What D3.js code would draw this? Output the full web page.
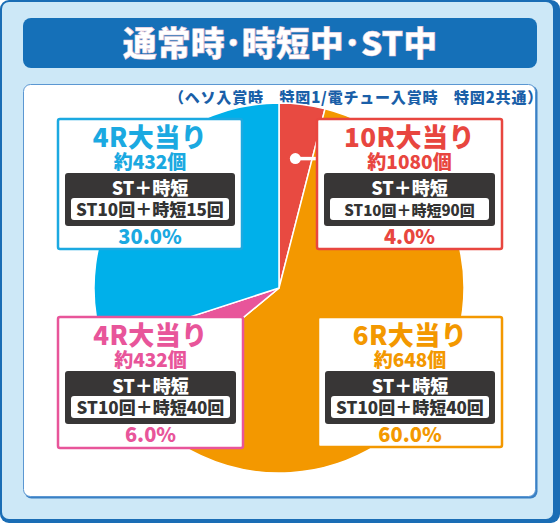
<!DOCTYPE html>
<html>
<head>
<meta charset="utf-8">
<script src="https://cdn.jsdelivr.net/npm/d3@7"></script>
<style>
  body { margin: 0; background: #fff; }
  svg { display: block; }
  text { font-family: "Noto Sans CJK JP", "Noto Sans", sans-serif; font-weight: 900; }
</style>
</head>
<body>
<script>
// chart data, pie order is clockwise from 12 o'clock
const hitNames  = ["10R大当り", "6R大当り", "4R大当り", "4R大当り"];
const payouts   = ["約1080個", "約648個", "約432個", "約432個"];
const modeNames = ["ST＋時短", "ST＋時短", "ST＋時短", "ST＋時短"];
const details   = ["ST10回＋時短90回", "ST10回＋時短40回", "ST10回＋時短40回", "ST10回＋時短15回"];
const shares    = [4.0, 60.0, 6.0, 30.0];
const sliceColors = ["#e84a41", "#f39800", "#e8559a", "#00b0ea"];
const textColors  = ["#e8463f", "#f39800", "#e8559a", "#1ba9e1"];
const title = "通常時･時短中･ST中";
const note = "（ヘソ入賞時　特図1/電チュー入賞時　特図2共通）";

// label box placement (same order as data)
const boxes = [
  {x: 317, y: 119, w: 185, h: 130, detailSize: 15},
  {x: 318, y: 317, w: 184, h: 130, detailSize: 17},
  {x: 58,  y: 317, w: 185, h: 131, detailSize: 17},
  {x: 58,  y: 119, w: 184, h: 130, detailSize: 17}
];

const width = 560, height = 523;
const svg = d3.select("body").append("svg")
  .attr("width", width)
  .attr("height", height);

// frame
svg.append("rect")
  .attr("x", 0).attr("y", 0).attr("width", width).attr("height", height)
  .attr("rx", 9).attr("fill", "#1a6db5");
svg.append("rect")
  .attr("x", 2).attr("y", 2).attr("width", 551).attr("height", 517)
  .attr("rx", 7).attr("fill", "#cde8f7");

// title bar
svg.append("rect")
  .attr("x", 23).attr("y", 18).attr("width", 514).attr("height", 50)
  .attr("rx", 8).attr("fill", "#1570b8");
svg.append("text")
  .attr("x", 280).attr("y", 56)
  .attr("text-anchor", "middle")
  .attr("font-size", 34)
  .attr("fill", "#fff")
  .attr("stroke", "#e9c6d6").attr("stroke-width", 0.5)
  .text(title);

// inner panel
svg.append("rect")
  .attr("x", 24.5).attr("y", 85.5).attr("width", 513).attr("height", 413)
  .attr("rx", 7).attr("fill", "#3a80c4");
svg.append("rect")
  .attr("x", 23.5).attr("y", 84.5).attr("width", 512).attr("height", 412)
  .attr("rx", 7).attr("fill", "#fff").attr("stroke", "#5b97d2").attr("stroke-width", 1);

svg.append("text")
  .attr("x", 543).attr("y", 103)
  .attr("text-anchor", "end")
  .attr("font-size", 15)
  .attr("letter-spacing", 0.8)
  .attr("fill", "#1a5fa8")
  .text(note);

// pie
const cx = 279, cy = 288, radius = 185;
const pie = d3.pie().sort(null).value(d => d);
const arc = d3.arc().innerRadius(0).outerRadius(radius);

svg.append("g")
  .attr("transform", `translate(${cx},${cy})`)
  .selectAll("path")
  .data(pie(shares))
  .join("path")
  .attr("d", arc)
  .attr("fill", (d, i) => sliceColors[i])
  .attr("stroke", "#fff")
  .attr("stroke-width", 1.5);

// connector from the small red slice to its box
const redMid = pie(shares)[0];
const pinR = radius * 0.705;
const pinAngle = (redMid.startAngle + redMid.endAngle) / 2 - Math.PI / 2;
const pinX = cx + pinR * Math.cos(pinAngle), pinY = cy + pinR * Math.sin(pinAngle);
svg.append("line")
  .attr("x1", pinX).attr("y1", pinY).attr("x2", boxes[0].x + 2).attr("y2", pinY)
  .attr("stroke", "#fff").attr("stroke-width", 3.5);
svg.append("circle")
  .attr("cx", pinX).attr("cy", pinY).attr("r", 5.5)
  .attr("fill", "#fff");

// label boxes
const box = svg.selectAll("g.box")
  .data(shares)
  .join("g")
  .attr("class", "box")
  .attr("transform", (d, i) => `translate(${boxes[i].x},${boxes[i].y})`);

box.append("rect")
  .attr("x", 0).attr("y", 0)
  .attr("width", (d, i) => boxes[i].w).attr("height", (d, i) => boxes[i].h)
  .attr("rx", 2)
  .attr("fill", "#fff")
  .attr("stroke", (d, i) => textColors[i])
  .attr("stroke-width", 2.5);

box.append("text")
  .attr("x", (d, i) => boxes[i].w / 2).attr("y", 28)
  .attr("text-anchor", "middle")
  .attr("font-size", 26)
  .attr("letter-spacing", 0.5)
  .attr("fill", (d, i) => textColors[i])
  .text((d, i) => hitNames[i]);

box.append("text")
  .attr("x", (d, i) => boxes[i].w / 2).attr("y", 50)
  .attr("text-anchor", "middle")
  .attr("font-size", 19)
  .attr("fill", (d, i) => textColors[i])
  .text((d, i) => payouts[i]);

box.append("rect")
  .attr("x", 7).attr("y", 54)
  .attr("width", (d, i) => boxes[i].w - 14).attr("height", 53)
  .attr("rx", 3).attr("fill", "#383636");

box.append("text")
  .attr("x", (d, i) => boxes[i].w / 2).attr("y", 76)
  .attr("text-anchor", "middle")
  .attr("font-size", 18)
  .attr("fill", "#fff")
  .text((d, i) => modeNames[i]);

box.append("rect")
  .attr("x", 13).attr("y", 79)
  .attr("width", (d, i) => boxes[i].w - 26).attr("height", 22)
  .attr("rx", 3).attr("fill", "#fff");

box.append("text")
  .attr("x", (d, i) => boxes[i].w / 2).attr("y", 97)
  .attr("text-anchor", "middle")
  .attr("font-size", (d, i) => boxes[i].detailSize)
  .attr("fill", "#333")
  .text((d, i) => details[i]);

box.append("text")
  .attr("x", (d, i) => boxes[i].w / 2).attr("y", 125)
  .attr("text-anchor", "middle")
  .attr("font-size", 20)
  .attr("fill", (d, i) => textColors[i])
  .text(d => d.toFixed(1) + "%");
</script>
</body>
</html>
